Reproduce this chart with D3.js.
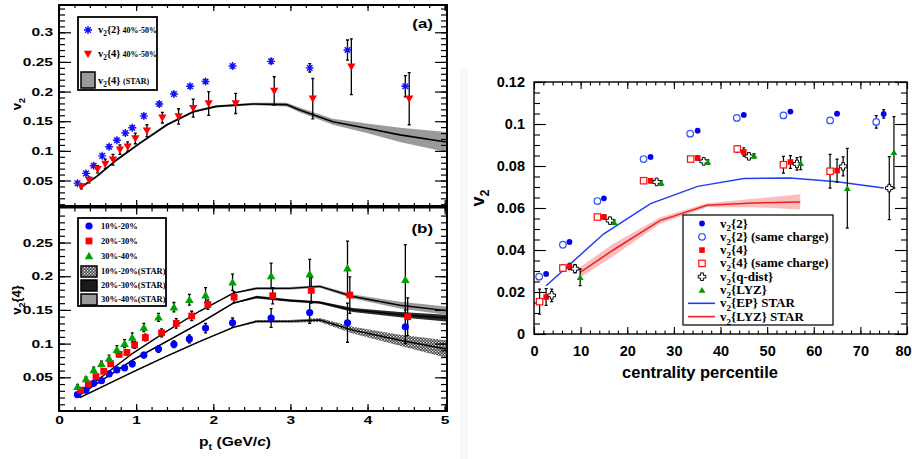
<!DOCTYPE html>
<html>
<head>
<meta charset="utf-8">
<script src="https://cdn.jsdelivr.net/npm/d3@7"></script>
<style>
body { margin: 0; background: #fff; }
</style>
</head>
<body>
<svg id="fig" width="912" height="459"></svg>
<script>
// ---- panel (a): 40%-50%
const aPt2 = [0.24, 0.35, 0.45, 0.56, 0.65, 0.75, 0.86, 0.95, 1.10, 1.30, 1.49, 1.70, 1.90, 2.25, 2.75, 3.25, 3.74, 4.49];
const aV22 = [0.0455, 0.062, 0.075, 0.0916, 0.107, 0.118, 0.130, 0.139, 0.159, 0.179, 0.196, 0.209, 0.217, 0.243, 0.251, 0.240, 0.270, 0.209];
const aE22 = [0.003, 0.003, 0.003, 0.003, 0.003, 0.003, 0.003, 0.003, 0.003, 0.003, 0.003, 0.003, 0.003, 0.003, 0.004, 0.007, 0.017, 0.018];
const aPt4 = [0.29, 0.39, 0.50, 0.60, 0.70, 0.79, 0.89, 0.99, 1.14, 1.34, 1.55, 1.74, 1.94, 2.29, 2.79, 3.29, 3.79, 4.54];
const aV24 = [0.040, 0.051, 0.069, 0.078, 0.085, 0.102, 0.107, 0.121, 0.134, 0.156, 0.158, 0.172, 0.180, 0.180, 0.201, 0.188, 0.242, 0.188];
const aE24 = [0.004, 0.005, 0.006, 0.008, 0.009, 0.008, 0.008, 0.009, 0.010, 0.009, 0.013, 0.015, 0.020, 0.017, 0.024, 0.034, 0.047, 0.044];
const aStarPt = [0.27, 0.49, 0.75, 1.05, 1.40, 1.74, 2.04, 2.52, 2.95, 3.12, 3.55, 3.99, 4.42, 5.02];
const aStarV = [0.037, 0.057, 0.085, 0.113, 0.144, 0.166, 0.175, 0.179, 0.178, 0.169, 0.149, 0.138, 0.127, 0.115];
const aStarE = [0.002, 0.002, 0.002, 0.002, 0.002, 0.002, 0.002, 0.002, 0.003, 0.004, 0.005, 0.008, 0.012, 0.017];

// ---- panel (b): v2{4} by centrality
const bPt1 = [0.24, 0.35, 0.45, 0.55, 0.65, 0.75, 0.85, 0.95, 1.10, 1.29, 1.49, 1.69, 1.90, 2.25, 2.75, 3.25, 3.74, 4.49];
const bV1 = [0.0243, 0.031, 0.041, 0.045, 0.055, 0.061, 0.064, 0.070, 0.083, 0.092, 0.099, 0.107, 0.123, 0.131, 0.138, 0.146, 0.131, 0.125];
const bE1 = [0.002, 0.002, 0.002, 0.002, 0.003, 0.003, 0.003, 0.004, 0.004, 0.005, 0.005, 0.006, 0.007, 0.007, 0.014, 0.016, 0.029, 0.025];
const bPt2 = [0.28, 0.38, 0.48, 0.58, 0.67, 0.78, 0.88, 0.98, 1.12, 1.33, 1.52, 1.72, 1.93, 2.27, 2.77, 3.27, 3.77, 4.52];
const bV2 = [0.031, 0.040, 0.051, 0.059, 0.070, 0.084, 0.087, 0.098, 0.109, 0.116, 0.130, 0.141, 0.158, 0.169, 0.171, 0.179, 0.172, 0.140];
const bE2 = [0.002, 0.002, 0.003, 0.003, 0.003, 0.004, 0.004, 0.005, 0.005, 0.006, 0.007, 0.007, 0.007, 0.008, 0.012, 0.019, 0.027, 0.028];
const bPt3 = [0.24, 0.35, 0.45, 0.55, 0.65, 0.75, 0.85, 0.95, 1.10, 1.29, 1.49, 1.69, 1.90, 2.25, 2.75, 3.25, 3.74, 4.49];
const bV3 = [0.036, 0.0475, 0.061, 0.070, 0.078, 0.091, 0.100, 0.109, 0.124, 0.139, 0.154, 0.165, 0.172, 0.191, 0.2005, 0.203, 0.212, 0.195];
const bE3 = [0.003, 0.003, 0.004, 0.004, 0.005, 0.006, 0.006, 0.007, 0.006, 0.006, 0.007, 0.008, 0.011, 0.012, 0.019, 0.022, 0.040, 0.052];
const bStarPt = [0.27, 0.96, 1.39, 1.82, 2.26, 2.56, 2.99, 3.38, 3.81, 4.42, 5.02];
const bStarV1 = [0.020, 0.058, 0.081, 0.103, 0.124, 0.133, 0.133, 0.135, 0.120, 0.105, 0.092];
const bStarE1 = [0.001, 0.001, 0.001, 0.001, 0.001, 0.002, 0.002, 0.003, 0.005, 0.008, 0.013];
const bStarV2 = [0.024, 0.076, 0.103, 0.130, 0.160, 0.169, 0.164, 0.161, 0.150, 0.143, 0.138];
const bStarE2 = [0.001, 0.001, 0.001, 0.001, 0.001, 0.002, 0.002, 0.002, 0.003, 0.004, 0.005];
const bStarV3 = [0.026, 0.086, 0.118, 0.148, 0.175, 0.182, 0.182, 0.185, 0.170, 0.157, 0.149];
const bStarE3 = [0.001, 0.001, 0.001, 0.001, 0.001, 0.002, 0.002, 0.002, 0.003, 0.005, 0.006];

// ---- right panel: integrated v2 vs centrality
const cV22 = [2.6, 7.6, 15.0, 25.0, 35.1, 45.0, 55.0, 65.0, 75.0];
const vV22 = [0.0286, 0.0438, 0.0646, 0.0843, 0.0968, 0.1043, 0.1059, 0.1049, 0.1048];
const eV22 = [0, 0, 0, 0, 0, 0, 0, 0, 0.002];
const cV22s = [1.1, 6.2, 13.6, 23.5, 33.5, 43.5, 53.5, 63.5, 73.4];
const vV22s = [0.0273, 0.0425, 0.0633, 0.0833, 0.0954, 0.1029, 0.1041, 0.1017, 0.1010];
const eV22s = [0, 0, 0, 0, 0, 0, 0, 0, 0.003];
const cV24 = [2.6, 7.6, 15.0, 25.0, 35.1, 45.0, 55.0, 65.0];
const vV24 = [0.0176, 0.0322, 0.0557, 0.0730, 0.0838, 0.0867, 0.0819, 0.0778];
const eV24 = [0.004, 0.0015, 0.001, 0.001, 0.001, 0.002, 0.003, 0.0055];
const cV24s = [1.2, 6.2, 13.6, 23.5, 33.6, 43.6, 53.5, 63.5];
const vV24s = [0.0154, 0.0314, 0.0557, 0.0730, 0.0833, 0.0881, 0.0806, 0.0775];
const eV24s = [0.006, 0.0015, 0.001, 0.001, 0.001, 0.0015, 0.004, 0.008];
const cQ = [3.8, 8.8, 16.3, 26.3, 36.4, 46.1, 56.4, 66.3, 76.2];
const vQ = [0.0184, 0.0311, 0.0540, 0.0724, 0.0822, 0.0846, 0.0810, 0.0798, 0.0695];
const eQ = [0.003, 0.002, 0.001, 0.001, 0.001, 0.001, 0.003, 0.0045, 0.015];
const cLyz = [9.9, 17.2, 27.3, 37.3, 47.2, 57.2, 67.2, 77.2];
const vLyz = [0.0270, 0.0532, 0.0719, 0.0819, 0.0849, 0.0813, 0.0694, 0.0865];
const eLyz = [0.004, 0.001, 0.001, 0.001, 0.001, 0.003, 0.019, 0.017];
const cEp = [2.6, 14.9, 25.0, 35.1, 45.0, 55.0, 65.0, 75.0];
const vEp = [0.0230, 0.0476, 0.0621, 0.0703, 0.0740, 0.0743, 0.0725, 0.0695];
const cLyzS = [9.9, 17.0, 27.0, 37.1, 47.1, 57.1];
const vLyzS = [0.0294, 0.040, 0.054, 0.0613, 0.0624, 0.0629];
const eLyzS = [0.0025, 0.003, 0.0015, 0.001, 0.002, 0.0036];

const aTicks = [0.05, 0.1, 0.15, 0.2, 0.25, 0.3];
const bTicks = [0.05, 0.1, 0.15, 0.2, 0.25];
const ptTicks = [0, 1, 2, 3, 4, 5];
const rYTicks = [0, 0.02, 0.04, 0.06, 0.08, 0.1, 0.12];
const rXTicks = [0, 10, 20, 30, 40, 50, 60, 70, 80];

const svg = d3.select("#fig");
const SANS = "Liberation Sans, Arial, sans-serif";
const SERIF = "Liberation Serif, Times New Roman, serif";
const K = 1.35; // left figure is stretched horizontally

const defs = svg.append("defs");
const chk = defs.append("pattern").attr("id", "chk").attr("width", 3).attr("height", 3)
  .attr("patternUnits", "userSpaceOnUse");
chk.append("rect").attr("width", 3).attr("height", 3).attr("fill", "#444");
chk.append("rect").attr("width", 1.3).attr("height", 1.3).attr("fill", "#eee");
chk.append("rect").attr("x", 1.5).attr("y", 1.5).attr("width", 1.3).attr("height", 1.3).attr("fill", "#ddd");

// scales
const xA = d3.scaleLinear([0, 5.03], [59, 447]);
const yA = d3.scaleLinear([0.007, 0.346], [206, 5]);
const yB = d3.scaleLinear([0, 0.302], [411, 207.5]);
const xR = d3.scaleLinear([0, 80], [534, 907]);
const yR = d3.scaleLinear([0, 0.12], [334, 82]);

function axisSet(g, x, y, o) {
  const [x0, x1] = x.range(), [y0, y1] = y.range();
  const fmt = d3.format("~g");
  const add = (axis, tx, ty) => {
    const a = g.append("g").attr("transform", `translate(${tx},${ty})`).call(axis);
    a.select(".domain").remove();
    a.selectAll("line").attr("stroke", "#000").attr("stroke-width", o.tw);
    return a;
  };
  // minor
  add(d3.axisBottom(x).tickValues(o.xMinor).tickSize(-o.xm).tickFormat(""), 0, y0);
  add(d3.axisTop(x).tickValues(o.xMinor).tickSize(-o.xm).tickFormat(""), 0, y1);
  add(d3.axisLeft(y).tickValues(o.yMinor).tickSize(-o.ym).tickFormat(""), x0, 0);
  add(d3.axisRight(y).tickValues(o.yMinor).tickSize(-o.ym).tickFormat(""), x1, 0);
  // major
  const bx = add(d3.axisBottom(x).tickValues(o.xMajor).tickSize(-o.xM).tickSizeOuter(0)
    .tickPadding(o.xPad).tickFormat(o.xLabels ? fmt : ""), 0, y0);
  add(d3.axisTop(x).tickValues(o.xMajor).tickSize(-o.xM).tickFormat(""), 0, y1);
  const ly = add(d3.axisLeft(y).tickValues(o.yMajor).tickSize(-o.yM).tickSizeOuter(0)
    .tickPadding(o.yPad / o.k).tickFormat(fmt), x0, 0);
  add(d3.axisRight(y).tickValues(o.yMajor).tickSize(-o.yM).tickFormat(""), x1, 0);
  [bx, ly].forEach(a => a.selectAll("text")
    .attr("font-family", SANS).attr("font-weight", "bold").attr("font-size", o.fs)
    .attr("fill", "#000").attr("transform", `scale(${o.k},1)`));
  g.append("rect").attr("x", x0).attr("y", y1).attr("width", x1 - x0).attr("height", y0 - y1)
    .attr("fill", "none").attr("stroke", "#000").attr("stroke-width", o.fw);
  return bx;
}

function rich(g, x, y, parts, o) {
  const t = g.append("text").attr("font-family", o.font).attr("font-weight", "bold")
    .attr("font-size", o.fs).attr("fill", "#000")
    .attr("transform", `translate(${x},${y}) ${o.rot ? "rotate(-90)" : ""} scale(${o.k || 1},1)`)
    .attr("text-anchor", o.anchor || "start");
  let shift = 0;
  parts.forEach(([s, kind]) => {
    const ts = t.append("tspan").text(s);
    let want = 0;
    if (kind === "sub") { want = o.fs * 0.3; ts.attr("font-size", o.fs * 0.7); }
    if (kind === "small") ts.attr("font-size", o.small);
    if (kind === "it") ts.attr("font-style", "italic");
    if (want !== shift) { ts.attr("dy", want - shift); shift = want; }
  });
  return t;
}

function errorBars(g, xs, ys, es, sx, sy, cap, color, w) {
  const idx = d3.range(xs.length).filter(i => es[i] > 0);
  g.append("g").selectAll("path").data(idx).join("path")
    .attr("d", i => {
      const x = sx(xs[i]), ya = sy(ys[i] - es[i]), yb = sy(ys[i] + es[i]);
      return `M${x},${ya}V${yb}M${x - cap},${ya}H${x + cap}M${x - cap},${yb}H${x + cap}`;
    })
    .attr("fill", "none").attr("stroke", color).attr("stroke-width", w);
}

function band(g, xs, ys, es, sx, sy, fill, lineW) {
  const idx = d3.range(xs.length);
  g.append("path").datum(idx)
    .attr("d", d3.area().x(i => sx(xs[i])).y0(i => sy(ys[i] - es[i])).y1(i => sy(ys[i] + es[i])))
    .attr("fill", fill).attr("stroke", "none");
  g.append("path").datum(idx)
    .attr("d", d3.line().x(i => sx(xs[i])).y(i => sy(ys[i])))
    .attr("fill", "none").attr("stroke", "#000").attr("stroke-width", lineW);
}

const starPath = s => { const a = s * 0.7;
  return `M${-s},0H${s}M0,${-s}V${s}M${-a},${-a}L${a},${a}M${-a},${a}L${a},${-a}`; };
const crossPath = (s, w) =>
  `M${-w},${-s}H${w}V${-w}H${s}V${w}H${w}V${s}H${-w}V${w}H${-s}V${-w}H${-w}Z`;

function markers(g, xs, ys, sx, sy, draw) {
  g.append("g").selectAll("g").data(d3.range(xs.length)).join("g")
    .attr("transform", i => `translate(${sx(xs[i])},${sy(ys[i])})`)
    .each(function () { draw(d3.select(this)); });
}

const tri = (size) => d3.symbol(d3.symbolTriangle, size)();
const dot = (c, r) => s => s.append("circle").attr("r", r).attr("fill", c);
const sq = (c, h) => s => s.append("rect").attr("x", -h).attr("y", -h).attr("width", 2 * h).attr("height", 2 * h).attr("fill", c);
const triUp = (c, size) => s => s.append("path").attr("d", tri(size)).attr("fill", c).attr("transform", "translate(0,0.8)");
const triDown = (c, size) => s => s.append("path").attr("d", tri(size)).attr("fill", c).attr("transform", "rotate(180) translate(0,0.8)");
const star = (c, r) => s => s.append("path").attr("d", starPath(r)).attr("stroke", c).attr("stroke-width", 1.4).attr("fill", "none");

// ================= panel (a) =================
const gA = svg.append("g");
band(gA, aStarPt, aStarV, aStarE, xA, yA, "#9a9a9a", 1.6);
errorBars(gA, aPt2, aV22, aE22, xA, yA, 1.5, "#000", 1.3);
errorBars(gA, aPt4, aV24, aE24, xA, yA, 1.5, "#000", 1.3);
markers(gA, aPt2, aV22, xA, yA, star("#1111ff", 4));
markers(gA, aPt4, aV24, xA, yA, triDown("#ff0000", 30));
axisSet(gA, xA, yA, { xMajor: ptTicks, xMinor: d3.range(0, 5.02, 0.2), yMajor: aTicks,
  yMinor: d3.range(0.01, 0.345, 0.01), xM: 6, xm: 3, yM: 12, ym: 6, tw: 1.2, fw: 2,
  xLabels: false, xPad: 5, yPad: 6, fs: 11.5, k: K });
rich(gA, 433, 28, [["(a)"]], { font: SANS, fs: 13, k: 1.3, anchor: "end" });
rich(gA, 21, 104, [["v"], ["2", "sub"]], { font: SANS, fs: 13, rot: true, anchor: "middle" });

// legend (a)
const lA = gA.append("g");
lA.append("rect").attr("x", 78).attr("y", 17).attr("width", 79).attr("height", 73)
  .attr("fill", "#fff").attr("stroke", "#000").attr("stroke-width", 1.8);
star("#1111ff", 4)(lA.append("g").attr("transform", "translate(88,30)"));
triDown("#ff0000", 30)(lA.append("g").attr("transform", "translate(88,54)"));
lA.append("rect").attr("x", 81).attr("y", 72).attr("width", 14).attr("height", 16)
  .attr("fill", "#9a9a9a").attr("stroke", "#000").attr("stroke-width", 1.5);
const legA = { font: SERIF, fs: 10.5, small: 8 };
rich(lA, 98, 33, [["v"], ["2", "sub"], ["{2}"], [" 40%-50%", "small"]], legA);
rich(lA, 98, 57, [["v"], ["2", "sub"], ["{4}"], [" 40%-50%", "small"]], legA);
rich(lA, 98, 84, [["v"], ["2", "sub"], ["{4} "], ["(STAR)", "small"]], legA);

// ================= panel (b) =================
const gB = svg.append("g");
band(gB, bStarPt, bStarV1, bStarE1, xA, yB, "url(#chk)", 1.4);
band(gB, bStarPt, bStarV2, bStarE2, xA, yB, "#2a2a2a", 1.4);
band(gB, bStarPt, bStarV3, bStarE3, xA, yB, "#9a9a9a", 1.4);
errorBars(gB, bPt1, bV1, bE1, xA, yB, 1.5, "#000", 1.3);
errorBars(gB, bPt2, bV2, bE2, xA, yB, 1.5, "#000", 1.3);
errorBars(gB, bPt3, bV3, bE3, xA, yB, 1.5, "#000", 1.3);
markers(gB, bPt1, bV1, xA, yB, dot("#0000ff", 3.6));
markers(gB, bPt2, bV2, xA, yB, sq("#ff0000", 3.4));
markers(gB, bPt3, bV3, xA, yB, triUp("#00a000", 32));
axisSet(gB, xA, yB, { xMajor: ptTicks, xMinor: d3.range(0, 5.02, 0.2), yMajor: bTicks,
  yMinor: d3.range(0.01, 0.30, 0.01), xM: 7, xm: 4, yM: 12, ym: 6, tw: 1.2, fw: 2,
  xLabels: true, xPad: 5, yPad: 6, fs: 11.5, k: K });
rich(gB, 433, 233, [["(b)"]], { font: SANS, fs: 13, k: 1.3, anchor: "end" });
rich(gB, 21, 300, [["v"], ["2", "sub"], ["{4}"]], { font: SANS, fs: 13, rot: true, anchor: "middle" });
rich(gB, 235, 446, [["p"], ["t", "sub"], [" (GeV/"], ["c", "it"], [")"]], { font: SANS, fs: 12, k: 1.3, anchor: "middle" });

// legend (b)
const lB = gB.append("g");
lB.append("rect").attr("x", 78).attr("y", 218).attr("width", 88).attr("height", 88)
  .attr("fill", "#fff").attr("stroke", "#000").attr("stroke-width", 1.8);
dot("#0000ff", 3.6)(lB.append("g").attr("transform", "translate(89,226)"));
sq("#ff0000", 3.4)(lB.append("g").attr("transform", "translate(89,241)"));
triUp("#00a000", 32)(lB.append("g").attr("transform", "translate(89,256)"));
[["url(#chk)", 266], ["#1a1a1a", 280], ["#9a9a9a", 294]].forEach(([f, y]) =>
  lB.append("rect").attr("x", 81).attr("y", y).attr("width", 16).attr("height", 11)
    .attr("fill", f).attr("stroke", "#000").attr("stroke-width", 1.5));
const legB = { font: SERIF, fs: 8.5 };
[["10%-20%", 229], ["20%-30%", 244], ["30%-40%", 259],
 ["10%-20%(STAR)", 274], ["20%-30%(STAR)", 288], ["30%-40%(STAR)", 302]]
  .forEach(([s, y]) => rich(lB, 101, y, [[s]], legB));

// ================= right panel =================
const gR = svg.append("g");
gR.append("rect").attr("x", 460).attr("y", 70).attr("width", 8).attr("height", 389).attr("fill", "#f8f8f8");
const rx = axisSet(gR, xR, yR, { xMajor: rXTicks, xMinor: d3.range(0, 80.1, 2), yMajor: rYTicks,
  yMinor: d3.range(0, 0.1201, 0.005), xM: 7, xm: 3.5, yM: 12, ym: 6, tw: 1.1, fw: 1.4,
  xLabels: true, xPad: 12, yPad: 9, fs: 14.5, k: 1 });
// last label sits at the image edge; nudge it inside
rx.selectAll("text").filter(d => d === 80).attr("dx", -4);
rich(gR, 700, 378, [["centrality percentile"]], { font: SANS, fs: 16.5, anchor: "middle" });
rich(gR, 484, 198, [["v"], ["2", "sub"]], { font: SANS, fs: 18, rot: true, anchor: "middle" });

// STAR curves
gR.append("path").datum(d3.range(cLyzS.length))
  .attr("d", d3.area().x(i => xR(cLyzS[i])).y0(i => yR(vLyzS[i] - eLyzS[i])).y1(i => yR(vLyzS[i] + eLyzS[i])))
  .attr("fill", "#f7a8a8").attr("opacity", 0.75);
gR.append("path").datum(d3.range(cLyzS.length))
  .attr("d", d3.line().x(i => xR(cLyzS[i])).y(i => yR(vLyzS[i])))
  .attr("fill", "none").attr("stroke", "#ee2020").attr("stroke-width", 1.5);
gR.append("path").datum(d3.range(cEp.length))
  .attr("d", d3.line().x(i => xR(cEp[i])).y(i => yR(vEp[i])))
  .attr("fill", "none").attr("stroke", "#1f3ff0").attr("stroke-width", 1.5);

errorBars(gR, cV22, vV22, eV22, xR, yR, 1.5, "#000", 1.2);
errorBars(gR, cV22s, vV22s, eV22s, xR, yR, 1.5, "#000", 1.2);
errorBars(gR, cV24, vV24, eV24, xR, yR, 1.5, "#000", 1.2);
errorBars(gR, cV24s, vV24s, eV24s, xR, yR, 1.5, "#000", 1.2);
errorBars(gR, cQ, vQ, eQ, xR, yR, 1.5, "#000", 1.2);
errorBars(gR, cLyz, vLyz, eLyz, xR, yR, 1.5, "#000", 1.2);

const openCircle = s => s.append("circle").attr("r", 3.3).attr("fill", "#fff").attr("stroke", "#3355ff").attr("stroke-width", 1.2);
const openSquare = s => s.append("rect").attr("x", -3.2).attr("y", -3.2).attr("width", 6.4).attr("height", 6.4)
  .attr("fill", "#fff").attr("stroke", "#ff1010").attr("stroke-width", 1.2);
const openCross = s => s.append("path").attr("d", crossPath(3.8, 1.4)).attr("fill", "#fff").attr("stroke", "#000").attr("stroke-width", 1);
markers(gR, cV22s, vV22s, xR, yR, openCircle);
markers(gR, cV22, vV22, xR, yR, dot("#0000ee", 2.9));
markers(gR, cV24s, vV24s, xR, yR, openSquare);
markers(gR, cV24, vV24, xR, yR, sq("#ff0000", 2.8));
markers(gR, cQ, vQ, xR, yR, openCross);
markers(gR, cLyz, vLyz, xR, yR, triUp("#009900", 20));

// legend right
const lR = gR.append("g");
lR.append("rect").attr("x", 683).attr("y", 215).attr("width", 150).attr("height", 110)
  .attr("fill", "#fff").attr("stroke", "#222").attr("stroke-width", 1.4);
const legR = { font: SERIF, fs: 13 };
const rowsR = [
  ["{2}", dot("#0000ee", 2.9)],
  ["{2} (same charge)", openCircle],
  ["{4}", sq("#ff0000", 2.8)],
  ["{4} (same charge)", openSquare],
  ["{q-dist}", openCross],
  ["{LYZ}", triUp("#009900", 20)],
  ["{EP} STAR", s => s.append("path").attr("d", "M-14,0H13").attr("stroke", "#1f3ff0").attr("stroke-width", 1.6)],
  ["{LYZ} STAR", s => s.append("path").attr("d", "M-14,0H13").attr("stroke", "#ee2020").attr("stroke-width", 1.6)]
];
rowsR.forEach(([s, draw], i) => {
  const y = 223.5 + i * 13.3;
  draw(lR.append("g").attr("transform", `translate(702,${y})`));
  rich(lR, 720, y + 4, [["v"], ["2", "sub"], [s]], legR);
});
</script>
</body>
</html>
